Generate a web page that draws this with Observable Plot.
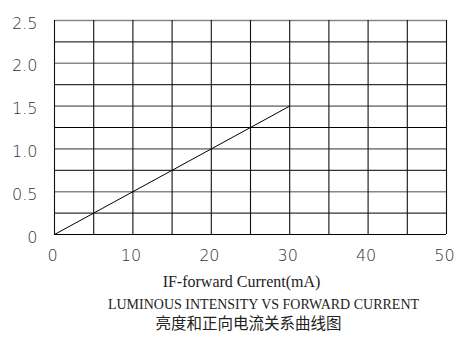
<!DOCTYPE html>
<html>
<head>
<meta charset="utf-8">
<script src="https://cdn.jsdelivr.net/npm/d3@7"></script>
<script src="https://cdn.jsdelivr.net/npm/@observablehq/plot@0.6"></script>
<style>
  html, body { margin: 0; padding: 0; background: #fff; }
  #chart svg { display: block; }
</style>
</head>
<body>
<div id="chart"></div>
<script>
// Data
const current = [0, 30];          // IF forward current (mA)
const intensity = [0, 1.5];       // relative luminous intensity
const xGrid = [0, 5, 10, 15, 20, 25, 30, 35, 40, 45, 50];
const yGrid = [0, 0.25, 0.5, 0.75, 1, 1.25, 1.5, 1.75, 2, 2.25, 2.5];
const xTicks = [0, 10, 20, 30, 40, 50];
const yTicks = [0, 0.5, 1, 1.5, 2, 2.5];
const yTickLabels = ["0", "0.5", "1.0", "1.5", "2.0", "2.5"];
const xLabel = "IF-forward Current(mA)";
const title = "LUMINOUS INTENSITY VS FORWARD CURRENT";
const titleZh = "亮度和正向电流关系曲线图";

const series = current.map((c, i) => ({current: c, intensity: intensity[i]}));
const greyY = new Set([0.5, 1, 1.5, 2, 2.5]);
const yLabelOf = v => yTickLabels[yTicks.indexOf(v)];

const W = 455, H = 338;
const mL = 54, mR = 9, mT = 20, mB = 104;

const chart = Plot.plot({
  width: W,
  height: H,
  marginLeft: mL,
  marginRight: mR,
  marginTop: mT,
  marginBottom: mB,
  style: {background: "#fff", color: "#222", overflow: "visible"},
  x: {domain: [0, 50]},
  y: {domain: [0, 2.5]},
  marks: [
    Plot.ruleY(yGrid.filter(v => !greyY.has(v)), {stroke: "#000", strokeWidth: 1}),
    Plot.ruleY(yGrid.filter(v => greyY.has(v)), {stroke: "#888", strokeWidth: 1.6}),
    Plot.ruleX(xGrid, {stroke: "#111", strokeWidth: 1.1}),
    Plot.line(series, {x: "current", y: "intensity", stroke: "#000", strokeWidth: 1}),
    Plot.axisX(xTicks, {
      tickSize: 0, tickPadding: 15, fontSize: 16, label: null, dx: -2,
      fontFamily: "DejaVu Sans", fontWeight: 300, fill: "#333",
      style: {letterSpacing: "1.2px"}
    }),
    Plot.axisY(yTicks, {
      tickSize: 0, tickPadding: 17, fontSize: 16, label: null, dy: 3,
      fontFamily: "DejaVu Sans", fontWeight: 300, fill: "#333",
      tickFormat: yLabelOf
    }),
    Plot.text([xLabel], {
      frameAnchor: "bottom", lineAnchor: "middle", x: () => 25, dx: -9, dy: 47,
      text: d => d, fontSize: 16, fontFamily: "Liberation Serif",
      fill: "#222", style: {letterSpacing: "1.3px"}
    }),
    Plot.text([title], {
      frameAnchor: "bottom", lineAnchor: "middle", x: () => 25, dx: 13, dy: 70,
      text: d => d, fontSize: 14, fontFamily: "Liberation Serif",
      fill: "#222", style: {letterSpacing: "0.28px"}
    }),
    Plot.text([titleZh], {
      frameAnchor: "bottom", lineAnchor: "middle", x: () => 25, dx: -2, dy: 90,
      text: d => d, fontSize: 15.5, fontFamily: "Noto Sans CJK SC",
      fill: "#222", style: {letterSpacing: "0.5px"}
    })
  ]
});
document.getElementById("chart").appendChild(chart);
</script>
</body>
</html>
